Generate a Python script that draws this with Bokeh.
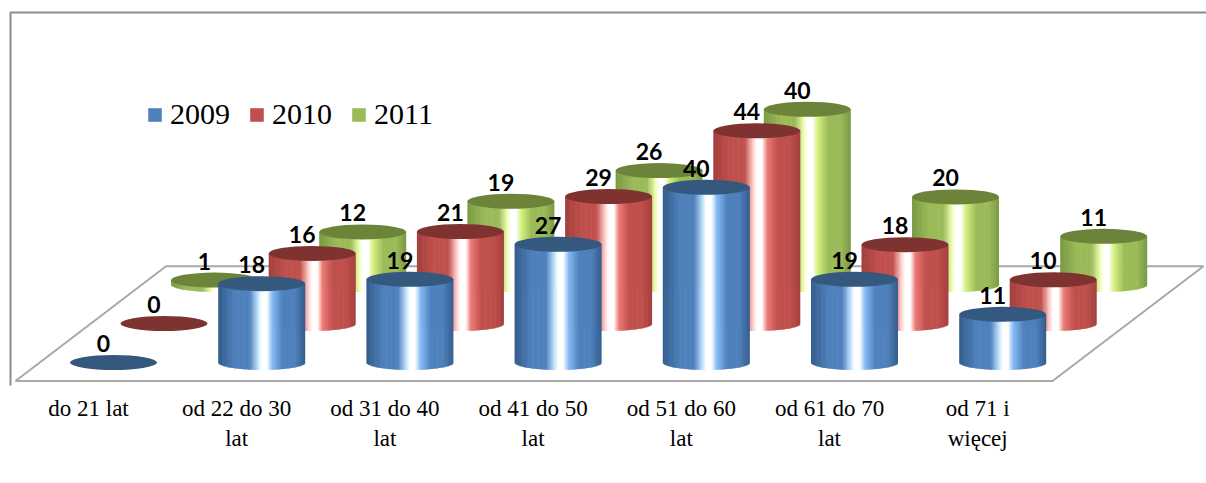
import math
from bokeh.embed import file_html
from bokeh.resources import INLINE
from bokeh.plotting import figure
from bokeh.core.properties import value
from bokeh.models import Range1d, FixedTicker, Legend, LegendItem, BoxAnnotation

categories = ["do 21 lat", "od 22 do 30\nlat", "od 31 do 40\nlat", "od 41 do 50\nlat",
              "od 51 do 60\nlat", "od 61 do 70\nlat", "od 71 i\nwięcej"]
series_names = ["2009", "2010", "2011"]
values_2009 = [0, 18, 19, 27, 40, 19, 11]
values_2010 = [0, 16, 21, 29, 44, 18, 10]
values_2011 = [1, 12, 19, 26, 40, 20, 11]
series_values = [values_2009, values_2010, values_2011]

# --- projection of the fake 3D chart: 1 x unit = one category, 1 y unit = one value unit
PX_PER_CAT = 148.2
PX_PER_VAL = 4.38
X0_PX, Y0_PX = 88.0, 362.0      # page pixel of x=0 (label of first category), y=0 (front floor row)
DEPTH_X = 50.5 / PX_PER_CAT
DEPTH_Y = 39.0 / PX_PER_VAL
CYL_OFF = 25.0 / PX_PER_CAT
RX = 43.5 / PX_PER_CAT
RY = 7.5 / PX_PER_VAL
N_STRIPS = 70


def dx(px):
    return (px - X0_PX) / PX_PER_CAT


def dy(py):
    return (Y0_PX - py) / PX_PER_VAL


FRAME_BOTTOM = 385
p = figure(width=1206, height=483, output_backend="svg", toolbar_location=None,
           x_range=Range1d(dx(0), dx(1206)), y_range=Range1d(dy(FRAME_BOTTOM), dy(0)),
           min_border_left=0, min_border_right=0, min_border_top=0, min_border_bottom=483 - FRAME_BOTTOM,
           background_fill_color="white", border_fill_color="white", outline_line_color=None)
p.yaxis.visible = False
p.grid.visible = False

# outer frame: only top and left sides fall inside the page
p.add_layout(BoxAnnotation(left=10, right=1400, top=12, bottom=900, left_units="canvas",
                           right_units="canvas", top_units="canvas", bottom_units="canvas",
                           fill_alpha=0, line_color="#8c8c8c", line_alpha=1, line_width=2, level="underlay"))

# floor
p.patch([dx(15), dx(165.5), dx(1203), dx(1052)], [dy(380.5), dy(265.8), dy(265.8), dy(380.5)],
        fill_color="white", line_color="#a8a8a8", line_width=2)

palette = [
    dict(base="#4f81bd", edge="#335c8c", light="#c4e6ff", after="#86bdf5", top="#35587f"),
    dict(base="#c0504d", edge="#a33f3c", light="#ffd2d0", after="#ec7a76", top="#7f3331"),
    dict(base="#9bbb59", edge="#7b9844", light="#f0ffb4", after="#d4f07c", top="#6b8439"),
]


def hex2rgb(h):
    return [int(h[i:i + 2], 16) for i in (1, 3, 5)]


def shade(col, u):
    stops = [(0.0, col["edge"]), (0.2, col["base"]), (0.36, col["base"]), (0.46, col["light"]),
             (0.5, "#ffffff"), (0.56, "#ffffff"), (0.62, col["after"]), (0.74, col["base"]),
             (0.88, col["base"]), (1.0, col["edge"])]
    for (a, ca), (b, cb) in zip(stops, stops[1:]):
        if u <= b:
            t = (u - a) / (b - a)
            ra, rb = hex2rgb(ca), hex2rgb(cb)
            return "#%02x%02x%02x" % tuple(round(x + (y - x) * t) for x, y in zip(ra, rb))
    return col["edge"]


# painter's order: back row first
for s in (2, 1, 0):
    col = palette[s]
    vals = series_values[s]
    lefts, rights, tops, bottoms, colors = [], [], [], [], []
    cx, cy = [], []
    for i, v in enumerate(vals):
        xc = i + CYL_OFF + s * DEPTH_X
        yb = s * DEPTH_Y
        cx.append(xc)
        cy.append(yb + v)
        if v == 0:
            continue
        w = 2 * RX / N_STRIPS
        for k in range(N_STRIPS):
            u0 = k / N_STRIPS
            um = (k + 0.5) / N_STRIPS
            nu = 2 * um - 1
            lefts.append(xc - RX + u0 * 2 * RX)
            rights.append(min(xc + RX, xc - RX + u0 * 2 * RX + 1.5 * w))
            tops.append(yb + v)
            bottoms.append(yb - RY * math.sqrt(max(0.0, 1 - nu * nu)))
            colors.append(shade(col, um))
    p.quad(left=lefts, right=rights, top=tops, bottom=bottoms, fill_color=colors, line_color=None)
    p.ellipse(x=cx, y=cy, width=2 * RX, height=2 * RY, fill_color=col["top"], line_color=None)

# value labels
for s in (2, 1, 0):
    vals = series_values[s]
    xs = [i + CYL_OFF + s * DEPTH_X for i in range(len(vals))]
    ys = [s * DEPTH_Y + v for v in vals]
    p.text(x=xs, y=ys, text=[str(v) for v in vals], text_align="center", text_baseline="middle",
           x_offset=-10, y_offset=-19, text_font=value("Lato"), text_font_style="bold",
           text_font_size="23px", text_color="#000000")

# category axis
ax = p.xaxis[0]
ax.ticker = FixedTicker(ticks=list(range(len(categories))))
ax.major_label_overrides = {i: c for i, c in enumerate(categories)}
ax.axis_line_color = None
ax.major_tick_line_color = None
ax.minor_tick_line_color = None
ax.major_label_standoff = 4
ax.major_label_text_font = "Liberation Serif"
ax.major_label_text_font_size = "23px"
ax.major_label_text_color = "#000000"
ax.major_label_orientation = "horizontal"

# legend
items = []
for s, name in enumerate(series_names):
    r = p.quad(left=[float("nan")], right=[float("nan")], top=[float("nan")], bottom=[float("nan")],
               fill_color=palette[s]["base"], line_color=None)
    items.append(LegendItem(label=name, renderers=[r]))
leg = Legend(items=items, orientation="horizontal", location=(146, 254), glyph_width=17, glyph_height=17,
             label_standoff=7, spacing=18, padding=0, margin=0, border_line_color=None,
             background_fill_alpha=0, label_text_font="Liberation Serif", label_text_font_size="30px",
             label_text_color="#000000", label_height=20)
p.add_layout(leg, "center")

open("out.html", "w").write(file_html(p, INLINE))
